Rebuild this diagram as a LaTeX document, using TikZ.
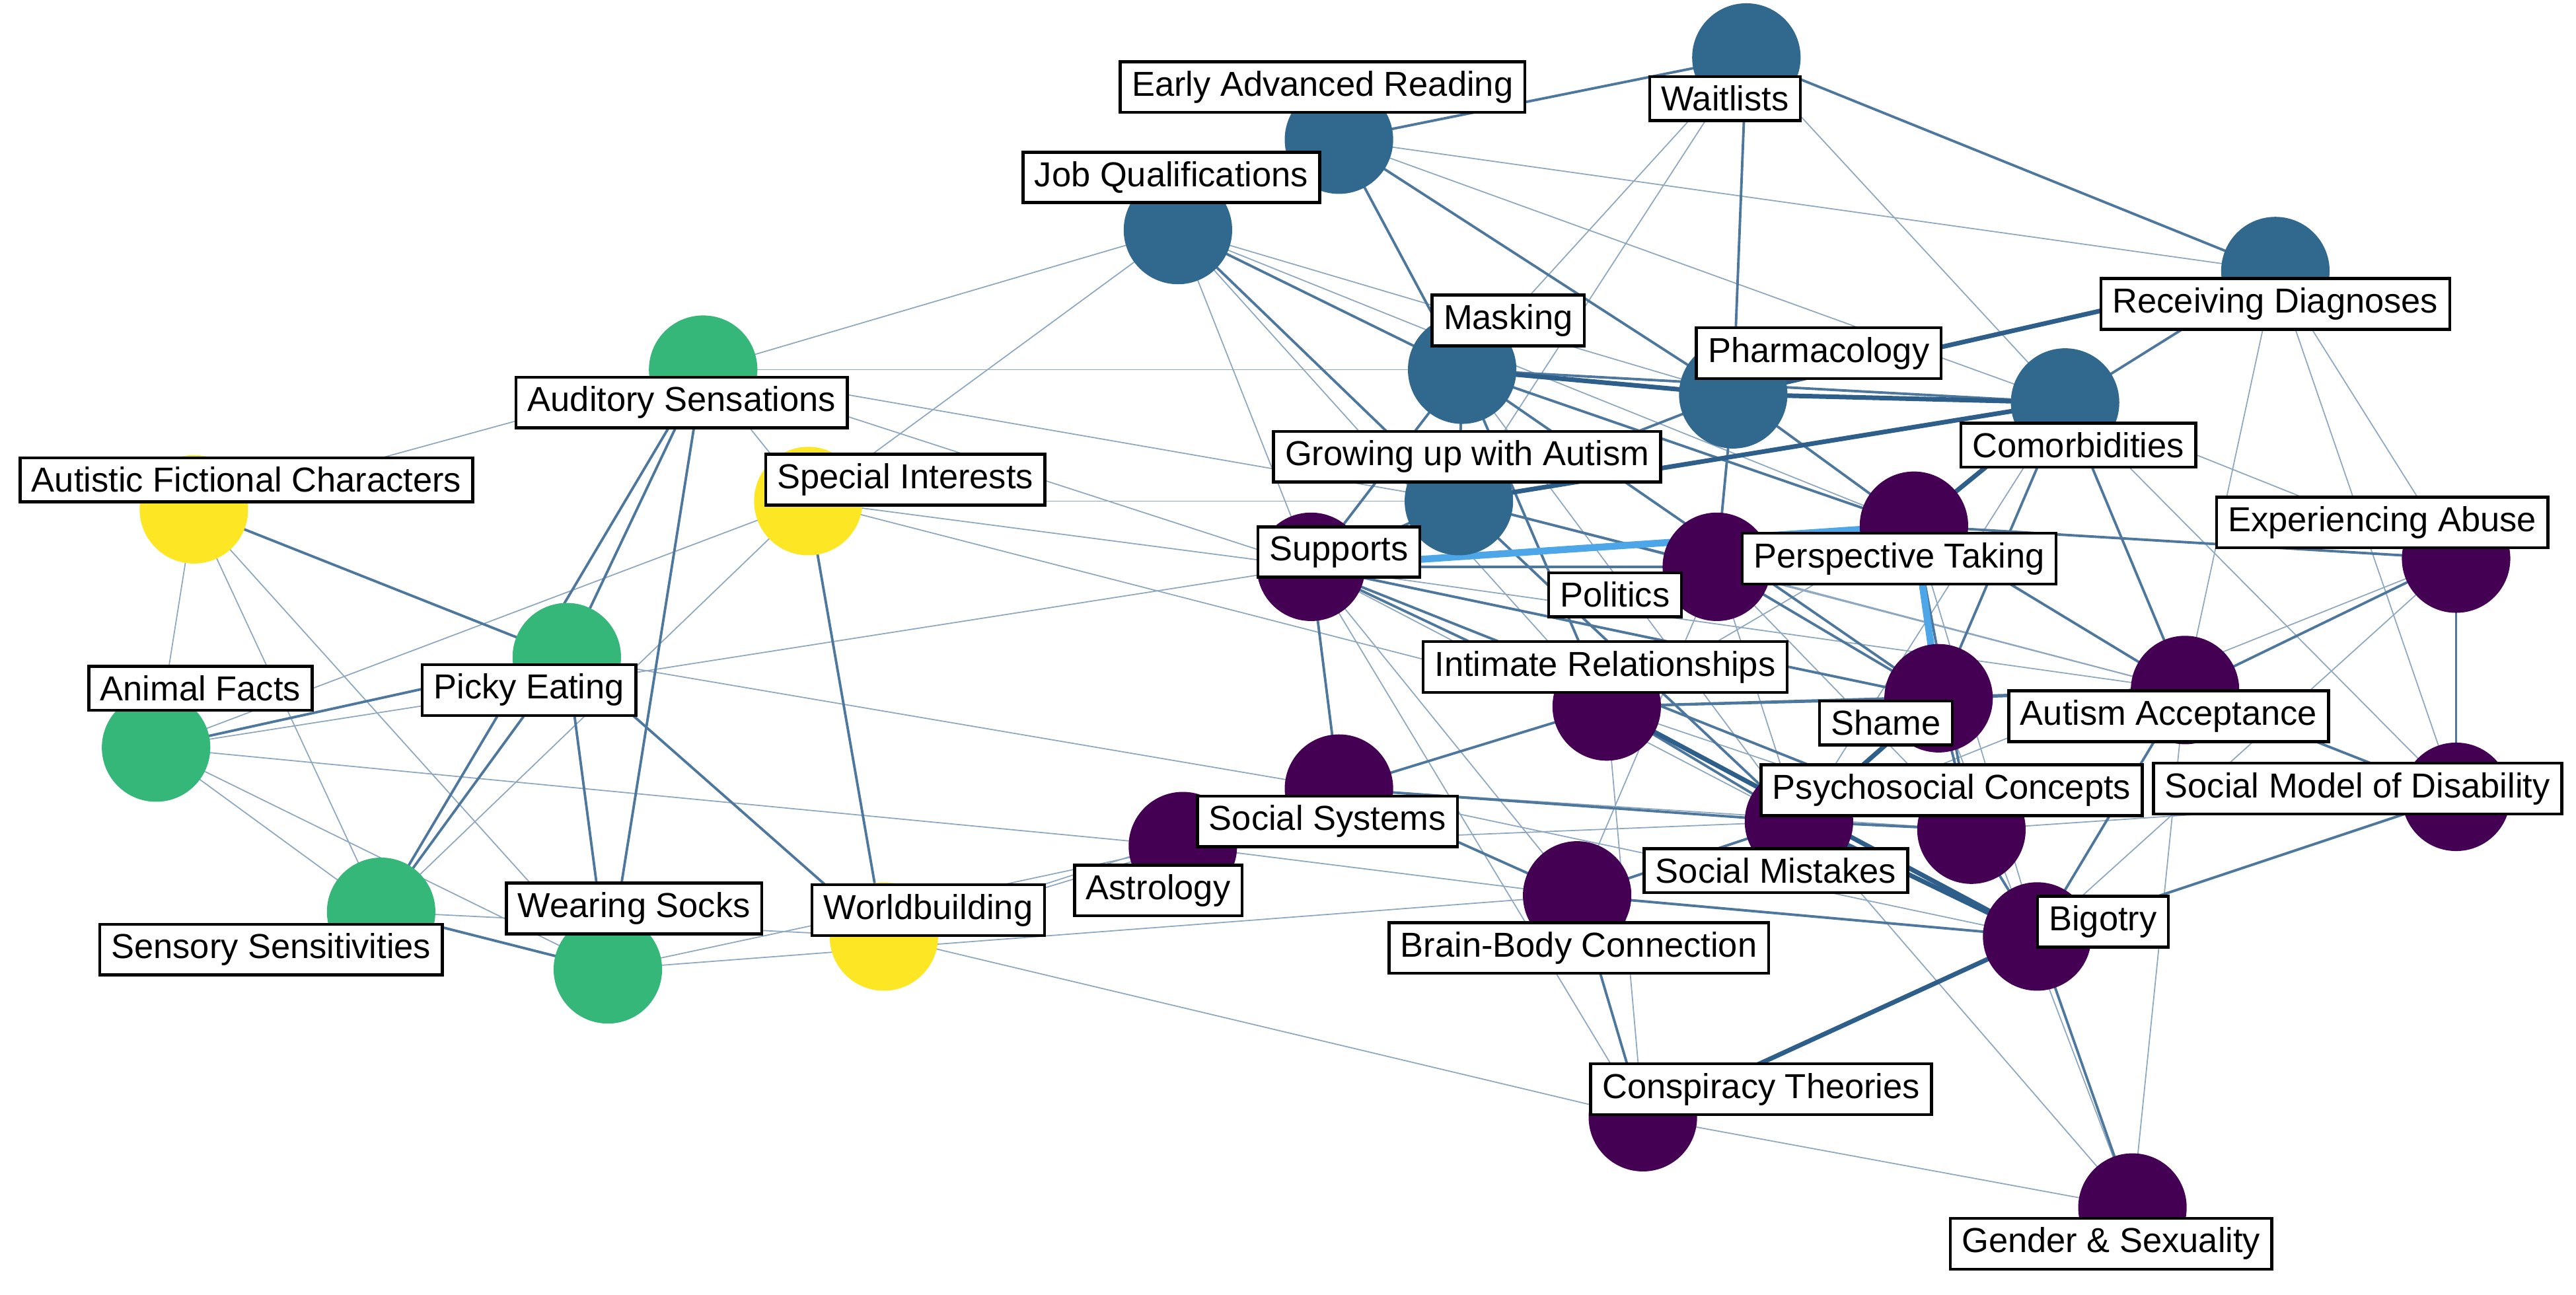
\documentclass[tikz,border=0pt]{standalone}
\usepackage{fontspec}
\setmainfont{Liberation Sans}
\begin{document}
\begin{tikzpicture}[x=0.025cm,y=-0.025cm,
  lab/.style={draw=black,fill=white,line width=1.3pt,inner xsep=5pt,inner ysep=4pt,font=\fontsize{15}{17}\selectfont},
  dot/.style={circle,minimum size=1.65cm,inner sep=0pt},
  e1/.style={draw=steel!55,line width=0.5pt},
  e2/.style={draw=steel!85,line width=1.1pt},
  e3/.style={draw=steel,line width=2pt},
  e4/.style={draw=sky,line width=3pt}]
\definecolor{steel}{HTML}{2E5F8A}
\definecolor{sky}{HTML}{4DA6E8}
\definecolor{vblue}{HTML}{31688E}
\definecolor{vpur}{HTML}{440154}
\definecolor{vgrn}{HTML}{35B779}
\definecolor{vyel}{HTML}{FDE725}
\useasboundingbox (0,0) rectangle (1568,788);
% centers
\foreach \n/\x/\y in {Wait/1063/35,EAR/815/85,Job/717/140,Mask/890/225,Pharm/1055/240,RD/1385/165,Com/1257/245,Grow/888/305,
 Sup/798/345,Pol/1045/345,Per/1165/320,Abu/1495/340,Int/978/430,Sha/1180/425,Acc/1330/420,SS/815/480,Ast/720/515,Psy/1095/500,
 SMD/1495/485,SMi/1200/505,BB/960/545,Big/1240/570,Con/1000/680,Gen/1298/735,
 Aud/428/225,Pic/345/400,Ani/95/455,Sen/232/555,Soc/370/590,AFC/118/310,Spe/492/305,Wor/538/570}
  \coordinate (\n) at (\x,\y);
% edges
\foreach \a/\b in {EAR/RD,Wait/Grow,Job/Sup,Job/Aud,Job/Spe,Job/Pharm,Mask/Aud,Aud/Grow,RD/SMD,RD/Acc,Sup/Con,Ast/BB,Gen/Psy,
 AFC/Ani,AFC/Soc,AFC/Sen,Aud/AFC,Aud/Spe,Aud/Sup,Pic/Ani,Ani/Sen,Ani/Soc,Ani/Ast,Sen/Wor,Spe/Sup,Spe/Ani,Spe/Sen,Spe/Grow,
 Wor/Ast,Wor/Con,Wor/SS,Soc/Ast,Soc/BB,Spe/Int,Ani/Sup,Pic/SS,Wait/Mask,Com/Grow,Abu/Big,Per/Int,Pol/Psy,SS/Big,Sup/Psy,Int/SMi,Com/Abu,RD/Abu,Con/Gen,Ast/Psy,
 Job/Int,Job/Per,Wait/Com,EAR/Com,Com/SMD,Abu/Psy,SMD/SMi,Int/Con,SS/SMi,Sup/BB,Pol/SMi,Pol/Acc,Per/Big,Com/Psy,Sha/Gen,Acc/Gen,Pol/BB,Sup/Acc,Mask/Psy,Grow/Acc}
  \draw[e1] (\a) -- (\b);
\foreach \a/\b in {EAR/Wait,EAR/Job,EAR/Mask,EAR/Pharm,Wait/RD,Wait/Pharm,Job/Mask,Job/Grow,Mask/Com,Mask/Grow,Mask/Sup,Mask/Per,
 Pharm/Grow,Pharm/Per,Com/RD,Com/Sha,Grow/Sup,Grow/Pol,Sup/Pol,Sup/Int,Sup/SS,Sup/Sha,Per/Acc,Per/Abu,Pol/Sha,Int/Sha,Int/Psy,Int/SS,
 Sha/Acc,Sha/SMi,Acc/Abu,Acc/SMD,Acc/Big,SS/Psy,SS/BB,SS/Ast,SMi/Big,BB/Big,BB/Con,Big/Gen,Big/SMD,Abu/SMD,Grow/Psy,Mask/Int,Mask/Sha,
 Aud/Pic,Aud/Soc,Aud/Sen,AFC/Pic,Pic/Sen,Pic/Soc,Pic/Wor,Sen/Soc,Spe/Wor,Ani/Pic,Pol/Per,Per/SMi,Pharm/Pol,Com/Acc,Sup/SMi,Int/Acc,Psy/SMi,BB/Psy}
  \draw[e2] (\a) -- (\b);
\foreach \a/\b in {Mask/Pharm,Pharm/Com,Pharm/RD,Psy/Big,Big/Con,Sha/Psy,Com/Per,Int/Big,Grow/Com}
  \draw[e3] (\a) -- (\b);
\foreach \a/\b in {Sup/Per,Per/Sha}
  \draw[e4] (\a) -- (\b);
% circles
\foreach \n in {Wait,EAR,Job,Mask,Pharm,RD,Com,Grow} \node[dot,fill=vblue] (c\n) at (\n) {};
\foreach \n in {Sup,Pol,Per,Abu,Int,Sha,Acc,SS,Ast,Psy,SMD,SMi,BB,Big,Con,Gen} \node[dot,fill=vpur] (c\n) at (\n) {};
\foreach \n in {Aud,Pic,Ani,Sen,Soc} \node[dot,fill=vgrn] (c\n) at (\n) {};
\foreach \n in {AFC,Spe,Wor} \node[dot,fill=vyel] (c\n) at (\n) {};
% labels
\node[lab] (lWait) at (1050,60) {Waitlists};
\node[lab] (lEAR) at (805,53) {Early Advanced Reading};
\node[lab] (lJob) at (713,108) {Job Qualifications};
\node[lab] (lMask) at (918,195) {Masking};
\node[lab] (lPharm) at (1107,215) {Pharmacology};
\node[lab] (lRD) at (1385,185) {Receiving Diagnoses};
\node[lab] (lCom) at (1265,271) {Comorbidities};
\node[lab] (lGrow) at (893,278) {Growing up with Autism};
\node[lab] (lSup) at (815,336) {Supports};
\node[lab] (lPol) at (983,362) {Politics};
\node[lab] (lPer) at (1156,340) {Perspective Taking};
\node[lab] (lAbu) at (1450,318) {Experiencing Abuse};
\node[lab] (lInt) at (977,406) {Intimate Relationships};
\node[lab] (lSha) at (1148,440) {Shame};
\node[lab] (lAcc) at (1320,436) {Autism Acceptance};
\node[lab] (lSS) at (808,500) {Social Systems};
\node[lab] (lAst) at (705,542) {Astrology};
\node[lab] (lPsy) at (1188,481) {Psychosocial Concepts};
\node[lab] (lSMD) at (1435,480) {Social Model of Disability};
\node[lab] (lSMi) at (1081,530) {Social Mistakes};
\node[lab] (lBB) at (961,577) {Brain-Body Connection};
\node[lab] (lBig) at (1280,561) {Bigotry};
\node[lab] (lCon) at (1072,663) {Conspiracy Theories};
\node[lab] (lGen) at (1285,757) {Gender \& Sexuality};
\node[lab] (lAud) at (415,245) {Auditory Sensations};
\node[lab] (lPic) at (322,420) {Picky Eating};
\node[lab] (lAni) at (122,419) {Animal Facts};
\node[lab] (lSen) at (165,578) {Sensory Sensitivities};
\node[lab] (lSoc) at (386,553) {Wearing Socks};
\node[lab] (lAFC) at (150,292) {Autistic Fictional Characters};
\node[lab] (lSpe) at (551,292) {Special Interests};
\node[lab] (lWor) at (565,554) {Worldbuilding};
\end{tikzpicture}
\end{document}
